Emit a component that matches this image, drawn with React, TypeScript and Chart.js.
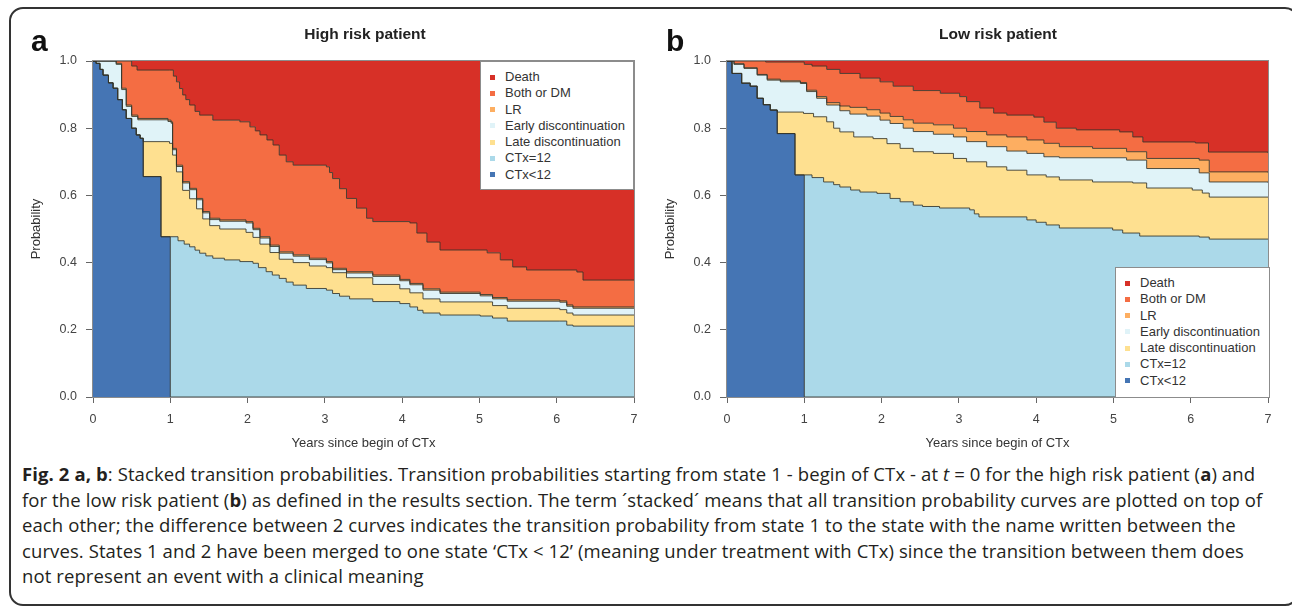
import React, { useEffect, useRef } from "react";
import { Chart, registerables } from "chart.js";
Chart.register(...registerables);

// States, bottom of the stack to top
const STATES = ["CTx<12", "CTx=12", "Late discontinuation", "Early discontinuation", "LR", "Both or DM", "Death"];
const COLORS = ["#4575b4", "#abd9e9", "#fee090", "#e0f3f8", "#fdae61", "#f46d43", "#d73027"];
const X_TICKS = [0, 1, 2, 3, 4, 5, 6, 7];
const Y_TICKS = [0, 0.2, 0.4, 0.6, 0.8, 1.0];

// ---- High risk patient: stacked (cumulative) upper edge of each state, [years, probability]
const hiCTxLt12 = [[0,1],[0.04,0.993],[0.09,0.975],[0.13,0.958],[0.2,0.935],[0.26,0.919],[0.32,0.885],[0.38,0.855],[0.43,0.829],[0.5,0.8],[0.56,0.78],[0.61,0.77],[0.65,0.656],[0.88,0.477],[1,0],[7,0]];
const hiCTx12 = [[0,1],[0.04,0.993],[0.09,0.975],[0.13,0.958],[0.2,0.935],[0.26,0.919],[0.32,0.885],[0.38,0.855],[0.43,0.829],[0.5,0.8],[0.56,0.78],[0.61,0.77],[0.65,0.656],[0.88,0.477],[1,0.477],[1.1,0.465],[1.18,0.455],[1.25,0.447],[1.32,0.437],[1.38,0.428],[1.46,0.42],[1.55,0.413],[1.7,0.408],[1.9,0.403],[2.07,0.398],[2.14,0.385],[2.24,0.373],[2.32,0.363],[2.41,0.353],[2.5,0.342],[2.59,0.333],[2.76,0.323],[3.02,0.318],[3.1,0.308],[3.19,0.3],[3.32,0.292],[3.62,0.284],[3.97,0.278],[4.1,0.268],[4.2,0.258],[4.27,0.25],[4.49,0.244],[5.01,0.241],[5.17,0.235],[5.36,0.226],[6.04,0.226],[6.13,0.214],[6.21,0.211],[7,0.211]];
const hiLate = [[0,1],[0.04,0.993],[0.09,0.975],[0.13,0.958],[0.2,0.935],[0.26,0.919],[0.32,0.885],[0.38,0.855],[0.43,0.829],[0.5,0.8],[0.56,0.78],[0.61,0.77],[0.65,0.76],[0.99,0.755],[1.03,0.72],[1.08,0.67],[1.16,0.615],[1.25,0.59],[1.34,0.56],[1.42,0.53],[1.51,0.51],[1.64,0.5],[1.98,0.49],[2.07,0.475],[2.16,0.455],[2.29,0.43],[2.41,0.41],[2.59,0.4],[2.8,0.39],[3.02,0.385],[3.1,0.37],[3.28,0.355],[3.62,0.335],[3.97,0.322],[4.1,0.31],[4.27,0.292],[4.49,0.283],[5.17,0.272],[5.36,0.264],[6.04,0.26],[6.13,0.25],[6.21,0.244],[7,0.244]];
const hiEarly = [[0,1],[0.3,0.99],[0.37,0.915],[0.43,0.865],[0.5,0.835],[0.58,0.825],[0.97,0.82],[1.01,0.815],[1.03,0.736],[1.08,0.686],[1.16,0.637],[1.25,0.617],[1.34,0.587],[1.42,0.548],[1.51,0.528],[1.64,0.523],[1.98,0.518],[2.07,0.498],[2.16,0.473],[2.29,0.448],[2.41,0.428],[2.59,0.419],[2.8,0.409],[3.02,0.399],[3.1,0.379],[3.28,0.369],[3.62,0.359],[3.97,0.346],[4.1,0.334],[4.27,0.318],[4.49,0.308],[5.01,0.301],[5.17,0.292],[5.36,0.285],[6.04,0.282],[6.13,0.27],[6.21,0.264],[7,0.264]];
const hiLR = [[0,1],[0.3,0.993],[0.37,0.919],[0.43,0.869],[0.5,0.839],[0.58,0.829],[0.97,0.824],[1.01,0.819],[1.03,0.74],[1.08,0.69],[1.16,0.641],[1.25,0.621],[1.34,0.591],[1.42,0.552],[1.51,0.532],[1.64,0.527],[1.98,0.522],[2.07,0.502],[2.16,0.477],[2.29,0.452],[2.41,0.432],[2.59,0.423],[2.8,0.413],[3.02,0.403],[3.1,0.383],[3.28,0.373],[3.62,0.363],[3.97,0.35],[4.1,0.338],[4.27,0.322],[4.49,0.312],[5.01,0.305],[5.17,0.296],[5.36,0.289],[6.04,0.286],[6.13,0.274],[6.21,0.268],[7,0.268]];
const hiBoth = [[0,1],[0.5,0.985],[0.57,0.973],[0.99,0.973],[1.04,0.955],[1.08,0.938],[1.12,0.918],[1.16,0.899],[1.2,0.885],[1.25,0.869],[1.32,0.85],[1.38,0.839],[1.55,0.824],[1.9,0.819],[2.03,0.804],[2.1,0.792],[2.16,0.78],[2.25,0.765],[2.33,0.75],[2.41,0.72],[2.5,0.7],[2.59,0.69],[3.02,0.685],[3.06,0.668],[3.1,0.65],[3.19,0.62],[3.28,0.591],[3.41,0.562],[3.54,0.532],[3.62,0.522],[4.1,0.518],[4.19,0.488],[4.32,0.461],[4.49,0.4375],[5.1,0.429],[5.27,0.408],[5.43,0.387],[5.61,0.378],[6.26,0.372],[6.34,0.348],[7,0.348]];
const hiDeath = [[0,1],[7,1]];

// ---- Low risk patient
const loCTxLt12 = [[0,1],[0.065,0.963],[0.19,0.934],[0.3,0.925],[0.39,0.889],[0.47,0.87],[0.56,0.854],[0.65,0.784],[0.88,0.661],[1,0],[7,0]];
const loCTx12 = [[0,1],[0.065,0.963],[0.19,0.934],[0.3,0.925],[0.39,0.889],[0.47,0.87],[0.56,0.854],[0.65,0.784],[0.88,0.661],[1,0.661],[1.1,0.653],[1.25,0.64],[1.38,0.632],[1.46,0.625],[1.6,0.616],[1.72,0.61],[1.94,0.606],[2.11,0.591],[2.24,0.581],[2.41,0.571],[2.53,0.567],[2.75,0.5625],[3.14,0.557],[3.2,0.545],[3.26,0.536],[3.88,0.527],[4,0.52],[4.13,0.512],[4.3,0.503],[4.99,0.497],[5.12,0.488],[5.34,0.479],[6.11,0.476],[6.24,0.47],[7,0.47]];
const loLate = [[0,1],[0.065,0.963],[0.19,0.934],[0.3,0.925],[0.39,0.889],[0.47,0.87],[0.56,0.854],[0.65,0.848],[0.99,0.844],[1.12,0.834],[1.29,0.819],[1.38,0.8],[1.46,0.789],[1.64,0.774],[1.89,0.769],[2.07,0.754],[2.24,0.74],[2.41,0.73],[2.67,0.725],[2.93,0.71],[3.1,0.7],[3.36,0.685],[3.62,0.675],[3.88,0.661],[4.13,0.655],[4.3,0.646],[4.73,0.64],[5.25,0.637],[5.43,0.622],[6.02,0.616],[6.15,0.607],[6.24,0.595],[7,0.595]];
const loEarly = [[0,1],[0.09,0.99],[0.22,0.978],[0.39,0.958],[0.52,0.943],[0.69,0.938],[0.95,0.933],[1.03,0.909],[1.16,0.889],[1.29,0.869],[1.46,0.852],[1.59,0.842],[1.81,0.836],[1.98,0.824],[2.11,0.814],[2.28,0.8],[2.41,0.79],[2.67,0.782],[2.93,0.774],[3.1,0.76],[3.36,0.745],[3.62,0.732],[3.88,0.725],[4.1,0.715],[4.3,0.712],[5.17,0.705],[5.43,0.68],[6.11,0.667],[6.24,0.64],[7,0.638]];
const loLR = [[0,1],[0.09,0.992],[0.22,0.98],[0.39,0.96],[0.52,0.946],[0.69,0.941],[0.95,0.936],[1.03,0.913],[1.16,0.894],[1.29,0.876],[1.46,0.866],[1.59,0.862],[1.81,0.855],[1.98,0.845],[2.11,0.835],[2.28,0.825],[2.41,0.815],[2.67,0.81],[2.93,0.8],[3.1,0.79],[3.36,0.78],[3.62,0.774],[3.88,0.765],[4.1,0.755],[4.3,0.745],[4.73,0.74],[5.17,0.73],[5.43,0.71],[6.11,0.705],[6.24,0.67],[7,0.668]];
const loBoth = [[0,1],[0.5,0.997],[1,0.99],[1.1,0.985],[1.29,0.975],[1.46,0.963],[1.72,0.949],[1.98,0.938],[2.15,0.925],[2.41,0.912],[2.76,0.904],[3.01,0.894],[3.1,0.879],[3.27,0.86],[3.45,0.845],[3.62,0.839],[3.97,0.833],[4.1,0.818],[4.26,0.8],[4.52,0.795],[5.08,0.789],[5.25,0.774],[5.38,0.759],[6.06,0.756],[6.23,0.729],[7,0.726]];
const loDeath = [[0,1],[7,1]];

const HIGH = [hiCTxLt12, hiCTx12, hiLate, hiEarly, hiLR, hiBoth, hiDeath];
const LOW = [loCTxLt12, loCTx12, loLate, loEarly, loLR, loBoth, loDeath];

const AXIS_FONT = "'Liberation Sans', Arial, sans-serif";

const boxPlugin = {
  id: "plotBox",
  afterDatasetsDraw(chart: any) {
    const { ctx, chartArea } = chart;
    const { left, top, right, bottom } = chartArea;
    ctx.save();
    ctx.strokeStyle = "#8c8c8c";
    ctx.lineWidth = 1;
    ctx.strokeRect(left - 0.5, top - 0.5, right - left + 1, bottom - top + 1);
    ctx.restore();
  },
};

function StackedPanel({ left, curves }: { left: number; curves: number[][][] }) {
  const ref = useRef<HTMLCanvasElement>(null);
  useEffect(() => {
    const chart = new Chart(ref.current as HTMLCanvasElement, {
      type: "line",
      data: {
        datasets: STATES.map((s, i) => ({
          label: s,
          data: curves[i].map(([x, y]) => ({ x, y })),
          stepped: true,
          fill: i === 0 ? "origin" : "-1",
          backgroundColor: COLORS[i],
          borderColor: i === STATES.length - 1 ? "rgba(0,0,0,0)" : "rgba(50,50,40,0.85)",
          borderWidth: i === STATES.length - 1 ? 0 : 1,
          pointRadius: 0,
          tension: 0,
        })),
      },
      options: {
        animation: false,
        responsive: false,
        devicePixelRatio: 1,
        layout: { padding: { top: 21, right: 16, bottom: 0, left: 0 } },
        plugins: {
          legend: { display: false },
          tooltip: { enabled: false },
          filler: { drawTime: "beforeDatasetsDraw" },
        },
        scales: {
          x: {
            type: "linear",
            min: 0,
            max: 7,
            afterFit: (s: any) => { s.height = 63; },
            afterBuildTicks: (s: any) => { s.ticks = X_TICKS.map((v) => ({ value: v })); },
            ticks: { padding: 9, color: "#444", font: { family: AXIS_FONT, size: 12.5 }, maxRotation: 0, callback: (v: any) => String(v) },
            grid: { drawOnChartArea: false, tickLength: 6, color: "#666" },
            border: { display: false },
            title: { display: true, text: "Years since begin of CTx", color: "#333", font: { family: AXIS_FONT, size: 13 }, padding: { top: 0, bottom: 9 } },
          },
          y: {
            type: "linear",
            min: 0,
            max: 1,
            afterFit: (s: any) => { s.width = 73; },
            afterBuildTicks: (s: any) => { s.ticks = Y_TICKS.map((v) => ({ value: v })); },
            ticks: { padding: 9, color: "#444", font: { family: AXIS_FONT, size: 12.5 }, callback: (v: any) => Number(v).toFixed(1) },
            grid: { drawOnChartArea: false, tickLength: 7, color: "#666" },
            border: { display: false },
            title: { display: true, text: "Probability", color: "#333", font: { family: AXIS_FONT, size: 13 }, padding: { top: 9, bottom: 0 } },
          },
        },
      } as any,
      plugins: [boxPlugin],
    });
    return () => chart.destroy();
  }, []);
  return (
    <canvas
      ref={ref}
      width={630}
      height={420}
      style={{ position: "absolute", left, top: 40, width: 630, height: 420 }}
    />
  );
}

function Legend({ left, top, width, height }: { left: number; top: number; width: number; height: number }) {
  const order = STATES.map((s, i) => i).reverse();
  return (
    <div
      style={{
        position: "absolute", left, top, width, height, boxSizing: "border-box",
        background: "#fff", border: "1px solid #8c8c8c", fontFamily: AXIS_FONT, fontSize: 13, color: "#333",
        paddingTop: 7,
      }}
    >
      {order.map((i) => (
        <div key={i} style={{ height: 16.3, lineHeight: "16.3px", whiteSpace: "nowrap", position: "relative", paddingLeft: 24 }}>
          <span style={{ position: "absolute", left: 9, top: 5.5, width: 5, height: 5, background: COLORS[i] }} />
          {STATES[i]}
        </div>
      ))}
    </div>
  );
}

const CAPTION_LINES = [
  <>
    <b>Fig. 2 a, b</b>: Stacked transition probabilities. Transition probabilities starting from state 1 - begin of CTx - at <i>t</i> = 0 for the high risk patient (<b>a</b>) and
  </>,
  <>
    for the low risk patient (<b>b</b>) as defined in the results section. The term ´stacked´ means that all transition probability curves are plotted on top of
  </>,
  <>each other; the difference between 2 curves indicates the transition probability from state 1 to the state with the name written between the</>,
  <>curves. States 1 and 2 have been merged to one state ‘CTx &lt; 12’ (meaning under treatment with CTx) since the transition between them does</>,
  <>not represent an event with a clinical meaning</>,
];

export default function App() {
  return (
    <div style={{ position: "absolute", left: 0, top: 0, width: 1292, height: 609, overflow: "hidden", background: "#fff" }}>
      <div
        style={{
          position: "absolute", left: 9, top: 7, width: 1290, height: 599, boxSizing: "border-box",
          border: "2px solid #333", borderRadius: 14,
        }}
      />
      <StackedPanel left={20} curves={HIGH} />
      <StackedPanel left={654} curves={LOW} />

      <div style={{ position: "absolute", left: 31, top: 26, fontFamily: AXIS_FONT, fontWeight: "bold", fontSize: 30, lineHeight: "30px", color: "#111" }}>a</div>
      <div style={{ position: "absolute", left: 666, top: 26, fontFamily: AXIS_FONT, fontWeight: "bold", fontSize: 30, lineHeight: "30px", color: "#111" }}>b</div>

      <div style={{ position: "absolute", left: 265, width: 200, top: 25, textAlign: "center", fontFamily: AXIS_FONT, fontWeight: "bold", fontSize: 15.5, lineHeight: "18px", color: "#222" }}>High risk patient</div>
      <div style={{ position: "absolute", left: 898, width: 200, top: 25, textAlign: "center", fontFamily: AXIS_FONT, fontWeight: "bold", fontSize: 15.5, lineHeight: "18px", color: "#222" }}>Low risk patient</div>

      <Legend left={480} top={61} width={154} height={129} />
      <Legend left={1115} top={267} width={155} height={131} />

      <div style={{ position: "absolute", left: 22, top: 461, fontFamily: "'Open Sans', 'Noto Sans', sans-serif", fontSize: 18.5, letterSpacing: "0.1px", lineHeight: "25.5px", color: "#231f20" }}>
        {CAPTION_LINES.map((l, i) => (
          <div key={i} style={{ whiteSpace: "nowrap" }}>{l}</div>
        ))}
      </div>
    </div>
  );
}
